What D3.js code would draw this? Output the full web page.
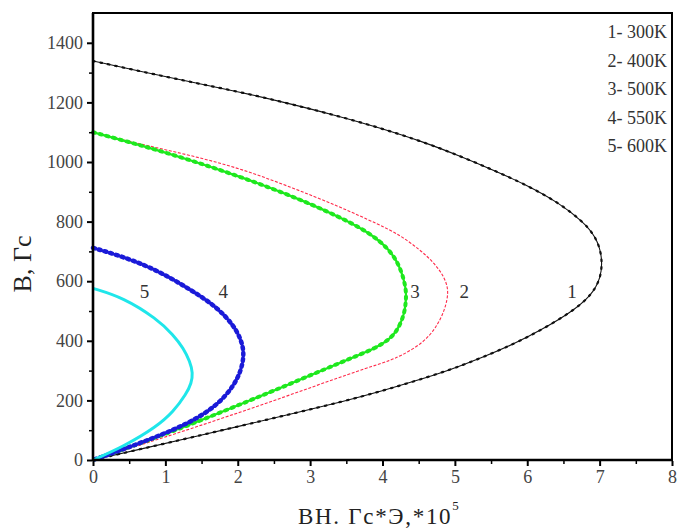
<!DOCTYPE html>
<html>
<head>
<meta charset="utf-8">
<script src="https://cdn.jsdelivr.net/npm/d3@7"></script>
<style>
  body { margin: 0; background: #fff; }
  svg text { font-family: "Liberation Serif", "DejaVu Serif", serif; }
</style>
</head>
<body>
<svg id="chart" width="677" height="530"></svg>
<script>
// curve data: BH (Гс*Э *10^5) vs B (Гс), top branch first
var bh1 = [0, 0.70, 1.40, 2.05, 2.66, 3.30, 3.92, 4.56, 5.07, 5.53, 5.99, 6.45, 6.77, 6.95, 7.04, 7.02, 6.88, 6.60, 6.19, 5.84, 5.35, 4.93, 4.45, 4.00, 3.45, 2.80, 2.10, 1.40, 0.70, 0];
var b1  = [1339, 1302, 1266, 1234, 1199, 1160, 1118, 1068, 1020, 973, 923, 861, 800, 749, 682, 610, 550, 495, 436, 392, 341, 302, 265, 232, 196, 158, 118, 78, 39, 0];

var bh2 = [0, 0.65, 1.34, 2.03, 2.72, 3.41, 3.96, 4.24, 4.52, 4.72, 4.86, 4.92, 4.86, 4.75, 4.56, 4.26, 4.08, 3.90, 3.41, 2.72, 2.03, 1.34, 0.65, 0];
var b2  = [1100, 1060, 1023, 979, 917, 850, 789, 755, 705, 660, 612, 565, 503, 447, 392, 350, 332, 318, 278, 218, 160, 104, 50, 0];

var bh3 = [0, 0.65, 1.34, 2.03, 2.72, 3.41, 3.83, 4.08, 4.22, 4.30, 4.33, 4.32, 4.30, 4.22, 4.10, 3.90, 3.60, 3.41, 2.72, 2.03, 1.34, 0.65, 0];
var b3  = [1100, 1057, 1007, 951, 889, 816, 761, 710, 660, 604, 560, 525, 490, 440, 405, 375, 345, 326, 255, 186, 118, 56, 0];

var bh4 = [0, 0.42, 0.88, 1.34, 1.71, 1.94, 2.05, 2.09, 2.05, 1.94, 1.71, 1.34, 0.88, 0.42, 0];
var b4  = [712, 682, 638, 573, 514, 453, 403, 356, 302, 246, 182, 125, 78, 36, 0];

var bh5 = [0, 0.42, 0.88, 1.11, 1.25, 1.34, 1.38, 1.36, 1.29, 1.11, 0.88, 0.42, 0];
var b5  = [576, 545, 474, 420, 375, 330, 292, 258, 222, 162, 112, 45, 0];

var legendLabels = ["1- 300K", "2- 400K", "3- 500K", "4- 550K", "5- 600K"];
var curveLabels = ["1", "2", "3", "4", "5"];
var curveLabelBH = [6.62, 5.13, 4.45, 1.80, 0.71];
var curveLabelB = [545, 545, 545, 545, 545];

var xTicks = [0, 1, 2, 3, 4, 5, 6, 7, 8];
var yTicks = [0, 200, 400, 600, 800, 1000, 1200, 1400];

var svg = d3.select("#chart");
var plotL = 93, plotR = 672, plotT = 13, plotB = 460;

var x = d3.scaleLinear().domain([0, 8]).range([plotL, plotR]);
var y = d3.scaleLinear().domain([0, 1500]).range([plotB, plotT]);

var series = [
  { bh: bh1, b: b1, color: "#111", width: 1.1, dash: null, dots: "1.6,6", dotW: 2.2 },
  { bh: bh2, b: b2, color: "#ff2a4a", width: 1.1, dash: "3,1.6", dots: null },
  { bh: bh3, b: b3, color: "#1ee81e", width: 2.2, dash: null, dots: "2,5", dotW: 4 },
  { bh: bh4, b: b4, color: "#1a1ad8", width: 2.2, dash: null, dots: "2,4", dotW: 4.5 },
  { bh: bh5, b: b5, color: "#1fe6ea", width: 3, dash: null, dots: null }
];

var line = d3.line()
  .x(function(d) { return x(d[0]); })
  .y(function(d) { return y(d[1]); })
  .curve(d3.curveBasis);

var gLines = svg.append("g");
series.forEach(function(s) {
  var pts = s.bh.map(function(v, i) { return [v, s.b[i]]; });
  gLines.append("path")
    .attr("d", line(pts))
    .attr("fill", "none")
    .attr("stroke", s.color)
    .attr("stroke-width", s.width)
    .attr("stroke-dasharray", s.dash);
  if (s.dots) {
    gLines.append("path")
      .attr("d", line(pts))
      .attr("fill", "none")
      .attr("stroke", s.color)
      .attr("stroke-width", s.dotW)
      .attr("stroke-linecap", "round")
      .attr("stroke-dasharray", s.dots);
  }
});

// frame
svg.append("rect")
  .attr("x", plotL).attr("y", plotT)
  .attr("width", plotR - plotL).attr("height", plotB - plotT)
  .attr("fill", "none").attr("stroke", "#000").attr("stroke-width", 2);
svg.append("line")
  .attr("x1", plotL).attr("x2", plotL).attr("y1", plotT).attr("y2", plotB + 1)
  .attr("stroke", "#000").attr("stroke-width", 2.6);
svg.append("line")
  .attr("x1", plotL - 1).attr("x2", plotR).attr("y1", plotB).attr("y2", plotB)
  .attr("stroke", "#000").attr("stroke-width", 2.6);

// x axis
var xAxis = d3.axisBottom(x).tickValues(xTicks).tickSize(5).tickPadding(4).tickFormat(d3.format("d"));
var gx = svg.append("g").attr("transform", "translate(0," + (plotB + 1) + ")").call(xAxis);
gx.select(".domain").remove();
gx.selectAll(".tick line").attr("stroke", "#000").attr("stroke-width", 2);
gx.selectAll(".tick text").attr("font-size", 18).attr("fill", "#444");
var gxm = svg.append("g").attr("transform", "translate(0," + (plotB + 1) + ")")
  .call(d3.axisBottom(x).tickValues(d3.range(0.5, 8, 1)).tickSize(3).tickFormat(""));
gxm.select(".domain").remove();
gxm.selectAll(".tick line").attr("stroke", "#000").attr("stroke-width", 1.5);

// y axis
var yAxis = d3.axisLeft(y).tickValues(yTicks).tickSize(5).tickPadding(4).tickFormat(d3.format("d"));
var gy = svg.append("g").attr("transform", "translate(" + (plotL - 1) + ",0)").call(yAxis);
gy.select(".domain").remove();
gy.selectAll(".tick line").attr("stroke", "#000").attr("stroke-width", 2);
gy.selectAll(".tick text").attr("font-size", 18).attr("fill", "#444");
var gym = svg.append("g").attr("transform", "translate(" + (plotL - 1) + ",0)")
  .call(d3.axisLeft(y).tickValues(d3.range(100, 1500, 200)).tickSize(3).tickFormat(""));
gym.select(".domain").remove();
gym.selectAll(".tick line").attr("stroke", "#000").attr("stroke-width", 1.5);

// axis titles
svg.append("text")
  .attr("transform", "translate(31,264) rotate(-90)")
  .attr("text-anchor", "middle")
  .attr("font-size", 26)
  .attr("fill", "#222")
  .text("B, Гс");

var xt = svg.append("text")
  .attr("x", 298).attr("y", 524)
  .attr("font-size", 23)
  .attr("letter-spacing", 1.7)
  .attr("fill", "#222");
xt.append("tspan").text("BH. Гс*Э,*10");
xt.append("tspan").attr("dy", -14).attr("font-size", 13).attr("letter-spacing", 0).text("5");

// legend text
svg.append("g").selectAll("text")
  .data(legendLabels)
  .enter()
  .append("text")
  .attr("x", 667)
  .attr("y", function(d, i) { return 38 + i * 28.5; })
  .attr("text-anchor", "end")
  .attr("font-size", 18)
  .attr("fill", "#333")
  .text(function(d) { return d; });

// curve numbers
svg.append("g").selectAll("text")
  .data(curveLabels)
  .enter()
  .append("text")
  .attr("x", function(d, i) { return x(curveLabelBH[i]); })
  .attr("y", function(d, i) { return y(curveLabelB[i]); })
  .attr("text-anchor", "middle")
  .attr("font-size", 19)
  .attr("fill", "#333")
  .text(function(d) { return d; });
</script>
</body>
</html>
